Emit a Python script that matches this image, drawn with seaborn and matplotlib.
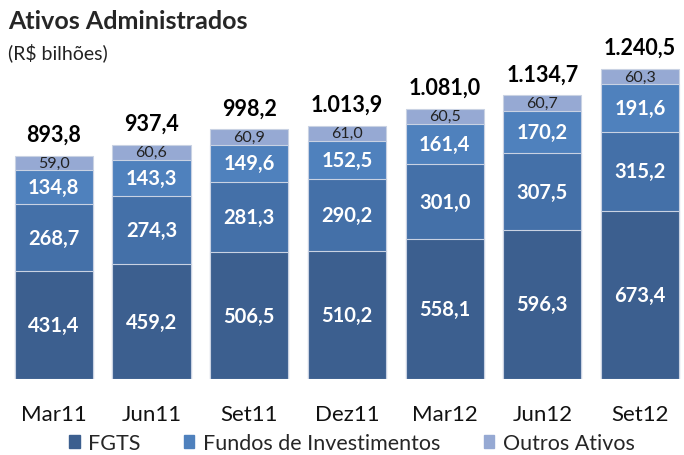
import numpy as np
import matplotlib
matplotlib.use("Agg")
import matplotlib.pyplot as plt
import matplotlib.patches as mpatches
import seaborn as sns

# data (R$ bilhoes)
periods = ["Mar11", "Jun11", "Set11", "Dez11", "Mar12", "Jun12", "Set12"]
fgts = [431.4, 459.2, 506.5, 510.2, 558.1, 596.3, 673.4]
fundos_a = [268.7, 274.3, 281.3, 290.2, 301.0, 307.5, 315.2]
fundos_b = [134.8, 143.3, 149.6, 152.5, 161.4, 170.2, 191.6]
outros = [59.0, 60.6, 60.9, 61.0, 60.5, 60.7, 60.3]
totals = [893.8, 937.4, 998.2, 1013.9, 1081.0, 1134.7, 1240.5]

colors = ["#3c5f8f", "#4470a8", "#4f81bd", "#96a9d3"]


def br(v):
    # brazilian number format: 1.240,5
    s = f"{v:,.1f}"
    return s.replace(",", "X").replace(".", ",").replace("X", ".")


sns.set_theme(style="white")
plt.rcParams["font.family"] = ["Lato", "DejaVu Sans"]

fig = plt.figure(figsize=(6.84, 4.56), dpi=100)
ax = fig.add_axes([0.0, 76 / 456, 1.0, 350 / 456])

layers = np.array([fgts, fundos_a, fundos_b, outros])
cum = np.cumsum(layers, axis=0)

# draw cumulative bars from the top layer down so they stack
for i in range(3, -1, -1):
    sns.barplot(x=periods, y=cum[i], color=colors[i], saturation=1, width=0.8,
                edgecolor="#c9d2e3", linewidth=0.8, ax=ax)

ax.set_xlim(-0.55, 6.45)
ax.set_ylim(0, 1400)
for s in ax.spines.values():
    s.set_visible(False)
ax.set_yticks([])
ax.set_ylabel("")
ax.set_xlabel("")
ax.tick_params(axis="x", length=0, pad=18, labelsize=16, labelcolor="#111111")

bottoms = cum - layers
for j in range(len(periods)):
    for i in range(3):
        ax.text(j, bottoms[i, j] + layers[i, j] / 2, br(layers[i, j]), ha="center",
                va="center", color="white", fontsize=14.5, fontweight="bold")
    ax.text(j, bottoms[3, j] + layers[3, j] / 2, br(layers[3, j]), ha="center",
            va="center", color="#222222", fontsize=11.5)
    ax.annotate(br(totals[j]), (j, cum[3, j]), xytext=(0, 8), textcoords="offset points",
                ha="center", va="bottom", fontsize=15.5, fontweight="bold", color="black")

fig.text(0.012, 0.952, "Ativos Administrados", fontsize=18, fontweight="bold", va="center")
fig.text(0.012, 0.885, "(R$ bilhões)", fontsize=14, va="center", color="#222222")

handles = [mpatches.Patch(color=colors[0], label="FGTS"),
           mpatches.Patch(color=colors[2], label="Fundos de Investimentos"),
           mpatches.Patch(color=colors[3], label="Outros Ativos")]
fig.legend(handles=handles, loc="center left", bbox_to_anchor=(0.085, 0.026), ncol=3,
           frameon=False, fontsize=15.5, handlelength=0.5, handleheight=0.5,
           handletextpad=0.4, columnspacing=2.0, borderpad=0.0)

fig.savefig("out.png", dpi=100)
